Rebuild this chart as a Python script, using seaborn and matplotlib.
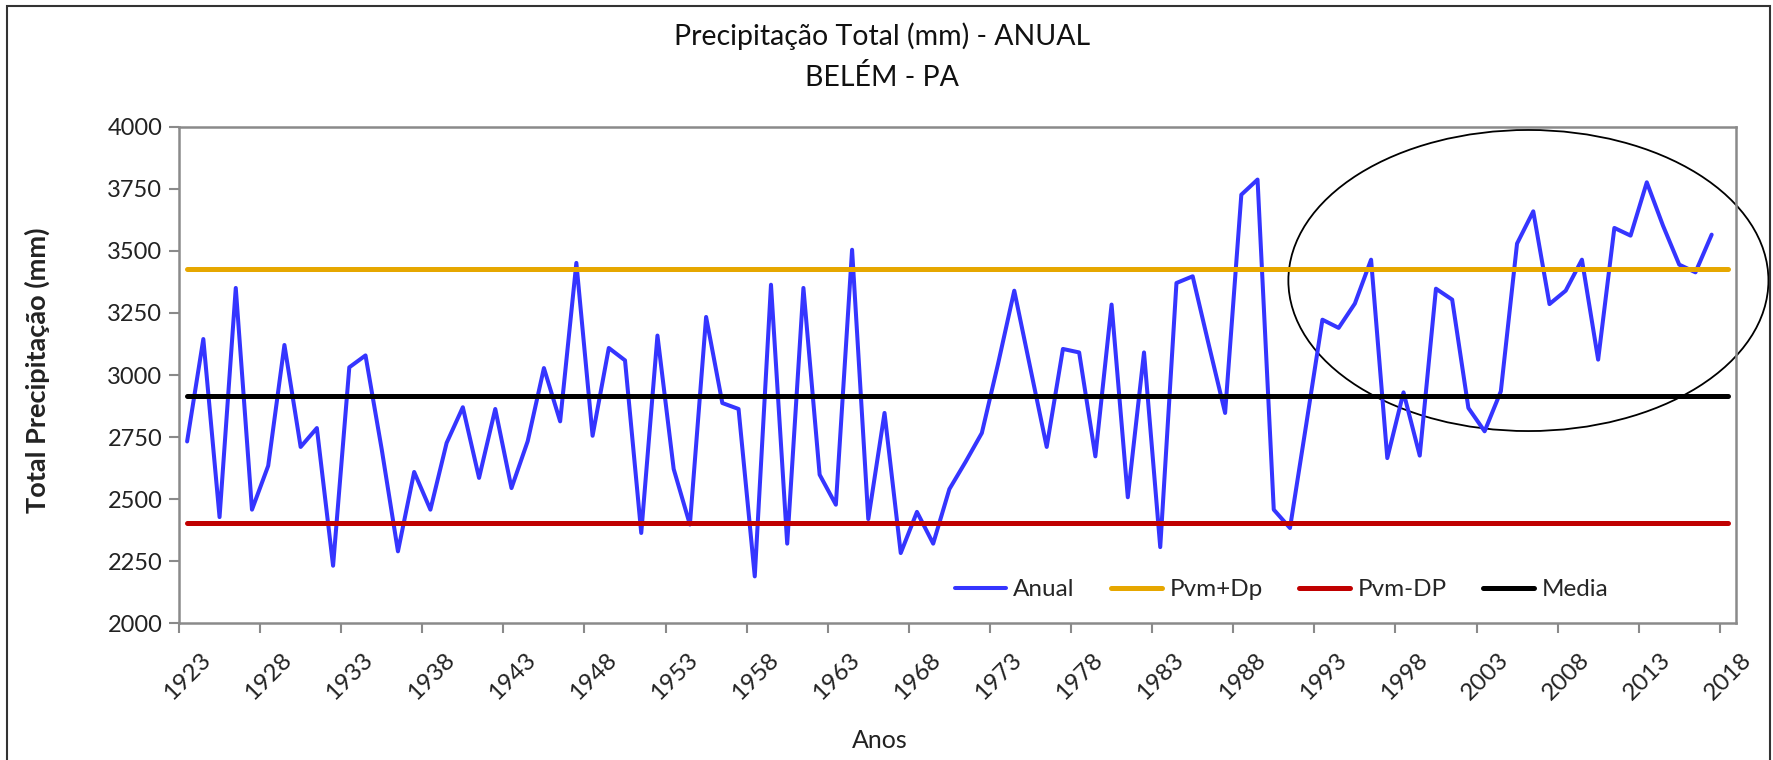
import matplotlib.pyplot as plt
import matplotlib.patches as mpatches
import matplotlib.transforms as mtransforms
import numpy as np
import seaborn as sns

sns.set_theme(style="white")
plt.rcParams["font.family"] = ["Lato", "DejaVu Sans"]

# annual totals 1923-2017 (2018 category on the axis has no value)
anos = np.arange(1923, 2018)
anual = [2732, 3145, 2427, 3351, 2457, 2634, 3121, 2710, 2786, 2231,
         3031, 3079, 2700, 2289, 2609, 2457, 2726, 2870, 2585, 2863,
         2544, 2733, 3028, 2813, 3452, 2755, 3109, 3059, 2363, 3159,
         2621, 2397, 3234, 2887, 2863, 2188, 3364, 2320, 3351, 2598,
         2477, 3505, 2419, 2847, 2282, 2448, 2320, 2540, 2650, 2766,
         3045, 3340, 3025, 2710, 3105, 3091, 2672, 3284, 2507, 3091,
         2306, 3371, 3398, 3120, 2847, 3727, 3788, 2457, 2383, 2800,
         3223, 3190, 3288, 3465, 2665, 2930, 2675, 3348, 3304, 2867,
         2773, 2934, 3530, 3660, 3286, 3340, 3465, 3062, 3593, 3562,
         3777, 3602, 3445, 3414, 3566]

anos_ref = np.arange(1923, 2019)
media = 2916
pvm_mais_dp = 3428
pvm_menos_dp = 2403

tick_anos = np.arange(1923, 2019, 5)
y_ticks = np.arange(2000, 4001, 250)

fig = plt.figure(figsize=(17.73, 7.6), dpi=100)
W, H = 1773, 760
ax = fig.add_axes([179 / W, (H - 623) / H, (1736 - 179) / W, (623 - 127) / H])

sns.lineplot(x=anos, y=anual, color="#3535FF", linewidth=2.9, label="Anual", ax=ax)
sns.lineplot(x=anos_ref, y=np.full(len(anos_ref), pvm_mais_dp), color="#E6A700",
             linewidth=3.6, label="Pvm+Dp", ax=ax)
sns.lineplot(x=anos_ref, y=np.full(len(anos_ref), pvm_menos_dp), color="#C00000",
             linewidth=3.6, label="Pvm-DP", ax=ax)
sns.lineplot(x=anos_ref, y=np.full(len(anos_ref), media), color="black",
             linewidth=3.6, label="Media", ax=ax)

ax.set_xlim(1922.5, 2018.5)
ax.set_ylim(2000, 4000)

ax.set_yticks(y_ticks)
ax.set_yticklabels([str(v) for v in y_ticks], fontsize=17, color="#222222")
ax.tick_params(axis="y", which="major", length=7, width=1.5, color="#8a8a8a",
               direction="out", left=True, pad=5)

ax.set_xticks(tick_anos)
ax.set_xticklabels([str(v) for v in tick_anos], fontsize=17.5, color="#222222",
                   rotation=45, ha="right", va="top", rotation_mode="anchor")
ax.tick_params(axis="x", which="major", length=0, pad=19)
shift = mtransforms.ScaledTranslation(0.13, 0, fig.dpi_scale_trans)
for lab in ax.get_xticklabels():
    lab.set_transform(lab.get_transform() + shift)
ax.set_xticks(np.arange(1922.5, 2018, 5), minor=True)
ax.tick_params(axis="x", which="minor", length=7, width=1.5, color="#8a8a8a",
               direction="out", bottom=True)

for s in ax.spines.values():
    s.set_color("#8a8a8a")
    s.set_linewidth(1.8)

ax.set_xlabel("")
ax.set_ylabel("")
fig.text(37 / W, 1 - 370 / H, "Total Precipitação (mm)", rotation=90,
         ha="center", va="center", fontsize=19.5, fontweight="bold", color="#222222")
fig.text(880 / W, 1 - 740 / H, "Anos", ha="center", va="center",
         fontsize=18, color="#222222")
fig.text(882 / W, 1 - 36 / H, "Precipitação Total (mm) - ANUAL", ha="center",
         va="center", fontsize=20.5, color="#111111")
fig.text(882 / W, 1 - 77 / H, "BELÉM - PA", ha="center", va="center",
         fontsize=20.5, color="#111111")

ax.legend(loc="center", bbox_to_anchor=(0.708, 0.067), ncol=4, frameon=False,
          fontsize=17.5, handlelength=2.1, handletextpad=0.3, columnspacing=1.5)

# hand-drawn highlight around the last years
ell = mpatches.Ellipse((2005.7, 3381), 29.6, 1214, fill=False, edgecolor="black",
                       linewidth=1.3, clip_on=False)
ax.add_patch(ell)

# outer chart border
fig.patches.append(mpatches.Rectangle((7 / W, -0.05), (1770 - 7) / W, 1.05 - 6 / H,
                                      transform=fig.transFigure, fill=False,
                                      edgecolor="#333333", linewidth=1.5))

fig.savefig("out.png", dpi=100)
